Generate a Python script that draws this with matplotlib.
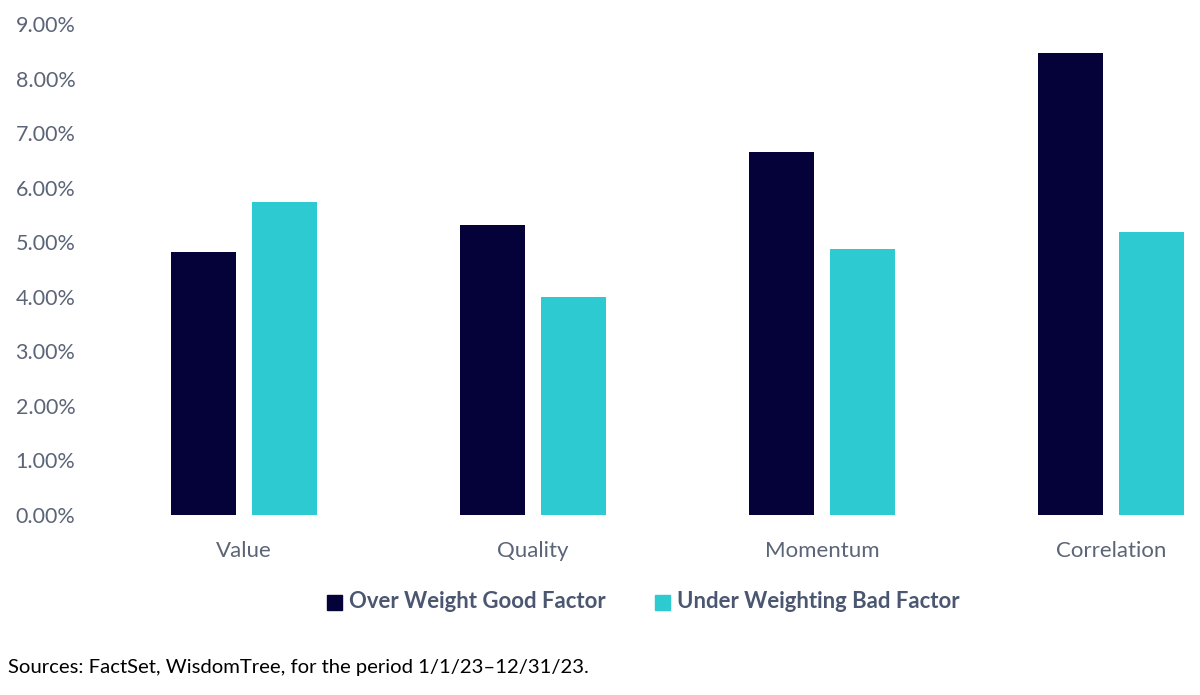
import matplotlib
matplotlib.use("Agg")
import matplotlib.pyplot as plt
from matplotlib.patches import Rectangle
import numpy as np

categories = ["Value", "Quality", "Momentum", "Correlation"]
over_weight_good = [4.82, 5.32, 6.65, 8.47]
under_weight_bad = [5.74, 4.00, 4.88, 5.19]
yticks = [0, 1, 2, 3, 4, 5, 6, 7, 8, 9]
series_names = ["Over Weight Good Factor", "Under Weighting Bad Factor"]

dark = "#05023a"
teal = "#2ecad1"
gray = "#5b6577"

plt.rcParams['font.family'] = ['Lato', 'DejaVu Sans']

W, H = 1200, 695
fig = plt.figure(figsize=(W/100, H/100), dpi=100)
ax = fig.add_axes([99/W, 1-515/H, (1200-99)/W, (515-24)/H])

x = np.arange(len(categories))
bw = 0.225
off = 0.14
ax.bar(x - off, over_weight_good, width=bw, color=dark)
ax.bar(x + off, under_weight_bad, width=bw, color=teal)

ax.set_xlim(-0.5, 3 + (1200-1111)/289)
ax.set_ylim(0, 9)
ax.set_yticks(yticks)
ax.set_yticklabels([f"{v:.2f}%" for v in yticks], fontsize=15.5, color=gray)
ax.set_xticks(x)
ax.set_xticklabels(categories, fontsize=16, color=gray)
ax.tick_params(axis='both', length=0)
ax.tick_params(axis='y', pad=17)
ax.tick_params(axis='x', pad=18.5)
for s in ax.spines.values():
    s.set_visible(False)

# legend
def legend_item(xpx, color, label):
    sq = 15
    fig.patches.append(Rectangle((xpx/W, 1-(602+sq/2)/H), sq/W, sq/H,
                                 transform=fig.transFigure, color=color, figure=fig))
    fig.text((xpx+22)/W, 1-601/H, label, fontsize=15.9, fontweight='bold',
             color="#4b5670", va='center', ha='left')

legend_item(327, dark, series_names[0])
legend_item(655, teal, series_names[1])

fig.text(8/W, 1-668/H, "Sources: FactSet, WisdomTree, for the period 1/1/23\u201312/31/23.",
         fontsize=14.6, color="black", va='center', ha='left')

fig.savefig("out.png", dpi=100)
